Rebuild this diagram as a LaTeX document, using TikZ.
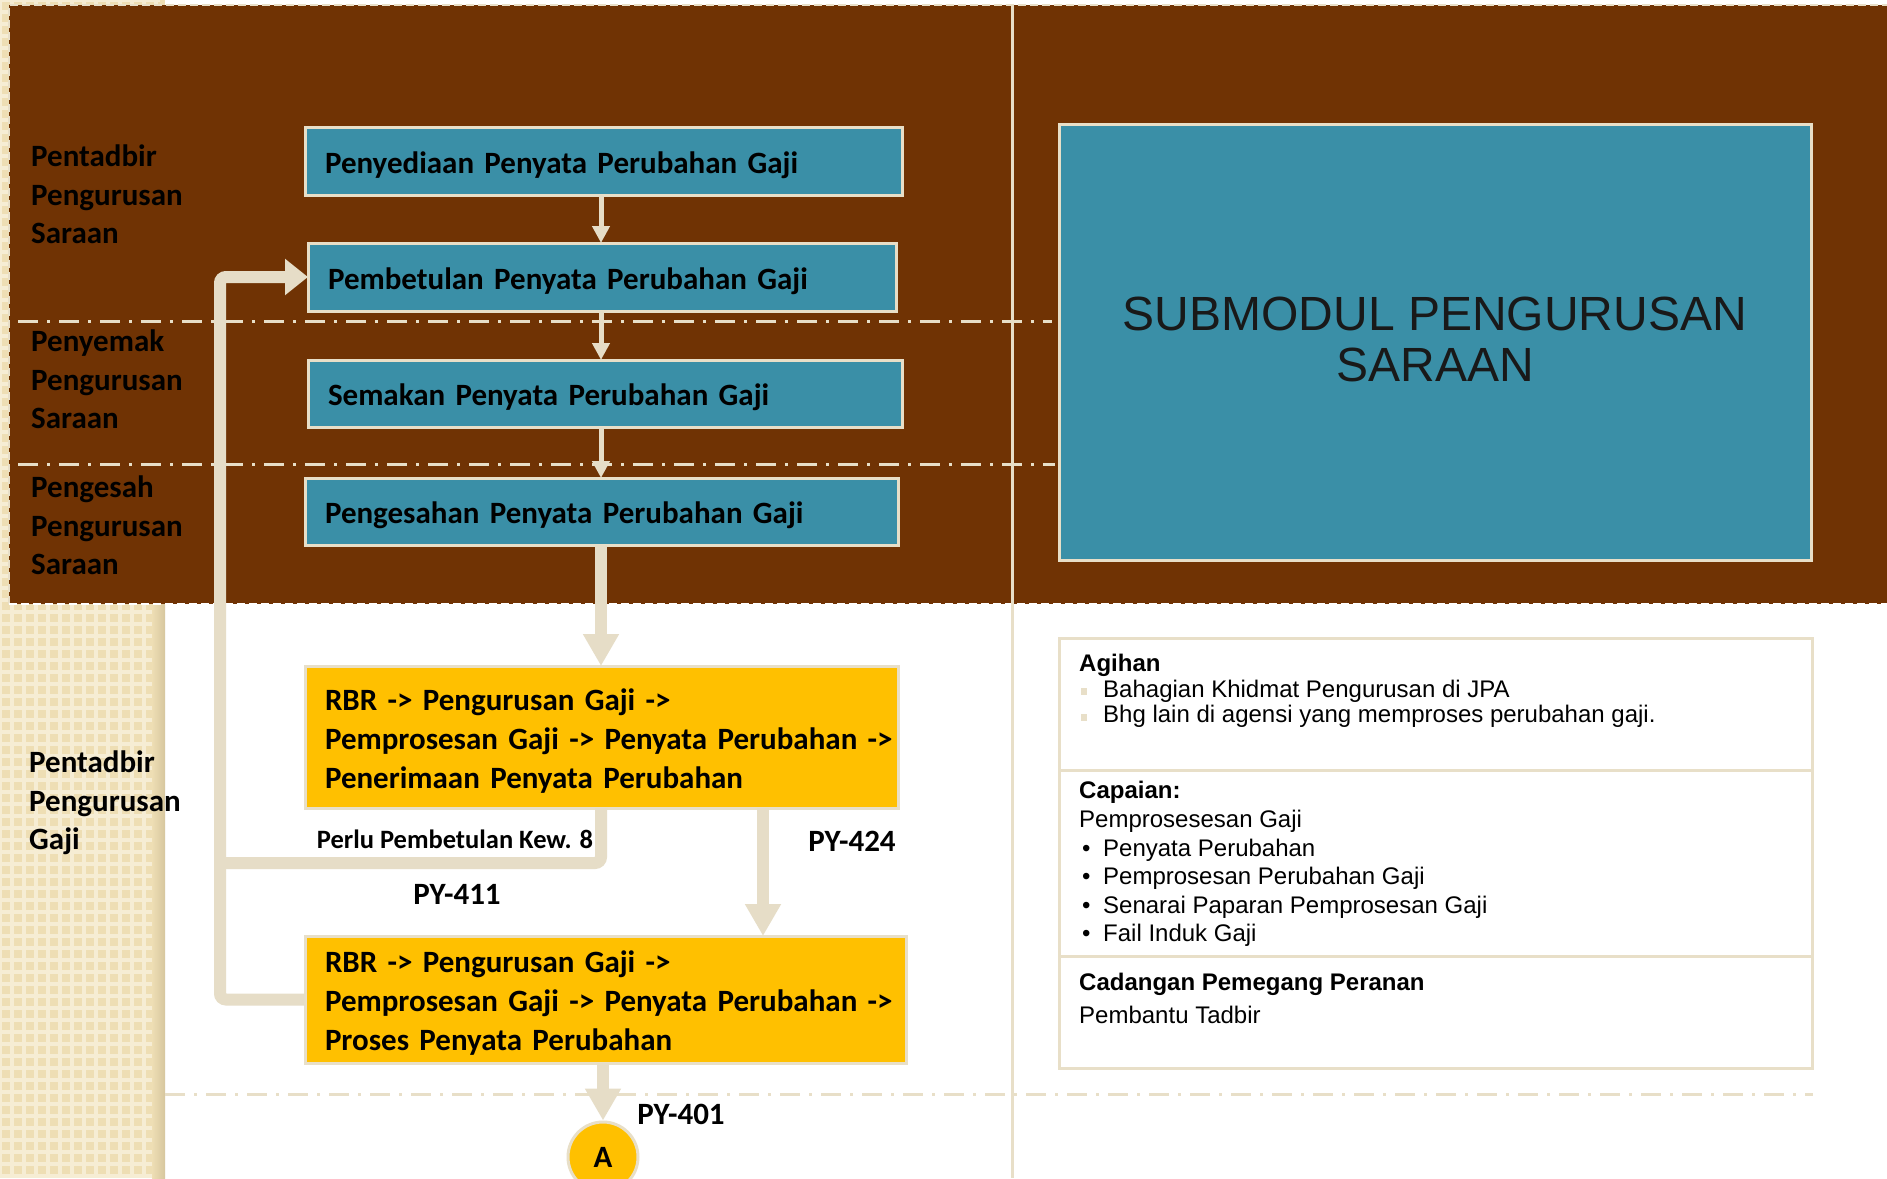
\documentclass[tikz,border=0pt]{standalone}
\usepackage{fontspec}
\newfontfamily\calfont{Carlito}
\newfontfamily\arialfont{Liberation Sans}
\usetikzlibrary{arrows.meta}
\definecolor{brownbg}{RGB}{112,51,4}
\definecolor{bluebox}{RGB}{58,143,167}
\definecolor{edge}{RGB}{232,223,200}
\definecolor{arrowc}{RGB}{230,221,199}
\definecolor{yellowbox}{RGB}{255,192,0}
\definecolor{stripbg}{RGB}{238,222,180}
\definecolor{stripln}{RGB}{246,237,212}
\definecolor{stripdark}{RGB}{214,198,158}
\newcommand{\agbul}{\makebox[24pt][l]{\hspace{2pt}\textcolor{edge}{\rule[2pt]{6pt}{7pt}}}}
\newcommand{\dotbul}{\makebox[24pt][l]{\hspace{3pt}\textbullet}}
\newcommand{\topstrut}[1]{\rule{0pt}{\dimexpr0.7\baselineskip+#1\relax}}
\newcommand{\titledepth}{\rule[-5pt]{0pt}{0pt}}
\begin{document}
\begin{tikzpicture}[x=1pt,y=-1pt,
  box/.style={draw=edge, line width=3pt, outer sep=0pt, align=left, inner xsep=20pt, inner ysep=0pt, anchor=north west, font=\calfont\bfseries\fontsize{31}{39}\selectfont, execute at begin node=\topstrut{8.5pt}, execute at end node=\strut},
  bluestep/.style={box, fill=bluebox},
  yellowstep/.style={box, fill=yellowbox},
  lane/.style={anchor=west, align=left, inner sep=0pt, font=\calfont\bfseries\fontsize{31}{38.5}\selectfont, execute at begin node=\strut, execute at end node=\strut},
  info/.style={anchor=west, align=left, inner sep=0pt, font=\arialfont\fontsize{24}{#1}\selectfont, execute at begin node=\strut, execute at end node=\strut},
  lbl/.style={font=\calfont\bfseries\fontsize{31}{37}\selectfont, inner sep=0pt},
  sep/.style={draw=edge, line width=3pt, dash pattern=on 20pt off 9pt on 3pt off 9pt},
  thinarr/.style={draw=arrowc, line width=5pt, -{Triangle[width=17pt,length=17pt]}},
  fatarr/.style={draw=arrowc, line width=12pt, -{Triangle[width=34pt,length=32pt]}},
  fbline/.style={draw=arrowc, line width=12pt, rounded corners=6pt},
  fbarr/.style={fbline, -{Triangle[width=35pt,length=23pt]}}
]
\useasboundingbox (0,0) rectangle (1887,1178);
\clip (0,0) rectangle (1887,1178);
\fill[white] (0,0) rectangle (1887,1178);
% left textured strip
\fill[stripbg] (0,0) rectangle (165,1178);
\foreach \yy in {0,12,...,1176} \draw[stripln, line width=4pt] (0,\yy) -- (160,\yy);
\foreach \xx in {0,12,...,156} \draw[stripln, line width=4pt] (\xx,0) -- (\xx,1178);
\shade[left color=stripbg, right color=stripdark] (152,604) rectangle (165,1178);
% brown region
\fill[brownbg] (9,5) rectangle (1887,604);
\draw[edge, line width=2pt, dash pattern=on 8pt off 4pt] (9,604) -- (9,5) -- (1887,5);
\draw[white, line width=2pt, dash pattern=on 8pt off 4pt] (9,604) -- (1887,604);
% divider and lane separators
\draw[edge, line width=3pt] (1012,5) -- (1012,1178);
\draw[sep] (18,321) -- (1052,321);
\draw[sep] (18,464) -- (1055,464);
\draw[sep] (165,1094) -- (1813,1094);

% lane labels
\node[lane] (lane1) at (31,200) {Pentadbir\\Pengurusan\\Saraan};
\node[lane] (lane2) at (31,385) {Penyemak\\Pengurusan\\Saraan};
\node[lane] (lane3) at (31,531) {Pengesah\\Pengurusan\\Saraan};
\node[lane] (lane4) at (29,806) {Pentadbir\\Pengurusan\\Gaji};

% process boxes
\node[bluestep, text width=557pt, minimum height=68pt] (b1) at (305,127) {Penyediaan Penyata Perubahan Gaji};
\node[bluestep, text width=548pt, minimum height=68pt] (b2) at (308,243) {Pembetulan Penyata Perubahan Gaji};
\node[bluestep, text width=554pt, minimum height=67pt] (b3) at (308,360) {Semakan Penyata Perubahan Gaji};
\node[bluestep, text width=553pt, minimum height=67pt] (b4) at (305,478) {Pengesahan Penyata Perubahan Gaji};
\node[yellowstep, text width=553pt, minimum height=142pt] (b5) at (305,666) {\mbox{RBR -> Pengurusan Gaji ->}\\\mbox{Pemprosesan Gaji -> Penyata Perubahan ->}\\\mbox{Penerimaan Penyata Perubahan}};
\node[yellowstep, text width=561pt, minimum height=127pt] (b6) at (305,936) {\mbox{RBR -> Pengurusan Gaji ->}\\\mbox{Pemprosesan Gaji -> Penyata Perubahan ->}\\\mbox{Proses Penyata Perubahan}};
\node[circle, draw=edge, line width=3pt, fill=yellowbox, minimum size=70pt, inner sep=0pt, font=\calfont\bfseries\fontsize{31}{37}\selectfont] (nA) at (603,1157) {A};

% right side
\node[draw=edge, line width=3pt, fill=bluebox, outer sep=0pt, minimum width=752pt, minimum height=436pt, anchor=north west, align=center, font=\arialfont\fontsize{48}{51}\selectfont, text=black!90, execute at end node=\titledepth] (title) at (1059,124) {SUBMODUL PENGURUSAN\\SARAAN};
\node[draw=edge, line width=3pt, outer sep=0pt, minimum width=753pt, minimum height=430pt, anchor=north west] (tbl) at (1059,638) {};
\coordinate (d1) at (0,770);
\coordinate (d2) at (0,956);
\draw[edge, line width=3pt] (tbl.west |- d1) -- (tbl.east |- d1);
\draw[edge, line width=3pt] (tbl.west |- d2) -- (tbl.east |- d2);
\node[info=25.5] (agihan) at (1079,692.5) {\textbf{Agihan}\\\agbul Bahagian Khidmat Pengurusan di JPA\\\agbul Bhg lain di agensi yang memproses perubahan gaji.};
\node[info=28.6] (capaian) at (1079,866) {\textbf{Capaian:}\\Pemprosesesan Gaji\\\dotbul Penyata Perubahan\\\dotbul Pemprosesan Perubahan Gaji\\\dotbul Senarai Paparan Pemprosesan Gaji\\\dotbul Fail Induk Gaji};
\node[info=33] (cadangan) at (1079,1003) {\textbf{Cadangan Pemegang Peranan}\\Pembantu Tadbir};

% connectors
\coordinate (cx) at (601,0);
\coordinate (c424) at (763,0);
\coordinate (lj) at (214,863);
\coordinate (lt) at (220,277);
\draw[thinarr] (b1.south -| cx) -- (b2.north -| cx);
\draw[thinarr] (b2.south -| cx) -- (b3.north -| cx);
\draw[thinarr] (b3.south -| cx) -- (b4.north -| cx);
\draw[fatarr] (b4.south -| cx) -- (b5.north -| cx);
\draw[fatarr] (b5.south -| c424) -- (b6.north -| c424);
\draw[fatarr] (b6.south -| nA) -- (nA);
\draw[fbline] (b5.south -| cx) |- (lj);
\draw[fbarr] (b6.west) -| (lt) -- (b2.west);

% connector labels
\node[lbl] (py424) at (852,841) {PY-424};
\node[lbl] (py411) at (457,894) {PY-411};
\node[lbl] (py401) at (681,1114) {PY-401};
\node[lbl, font=\calfont\bfseries\fontsize{26.5}{32}\selectfont] (perlu) at (455,839) {Perlu Pembetulan Kew. 8};
\end{tikzpicture}
\end{document}
